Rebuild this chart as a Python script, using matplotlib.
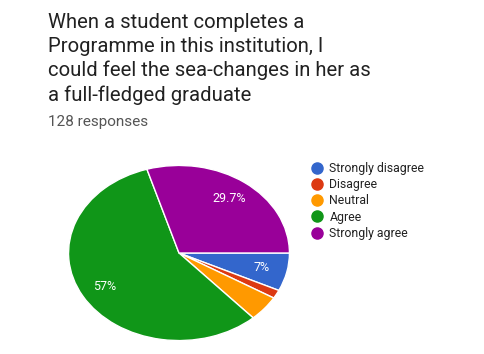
import matplotlib.pyplot as plt
from matplotlib.lines import Line2D

plt.rcParams['font.family'] = ['Roboto', 'DejaVu Sans']

title = ("When a student completes a\n"
         "Programme in this institution, I\n"
         "could feel the sea-changes in her as\n"
         "a full-fledged graduate")
n_responses = 128
categories = ['Strongly disagree', 'Disagree', 'Neutral', 'Agree', 'Strongly agree']
counts = [9, 2, 6, 73, 38]
colors = ['#3366cc', '#dc3912', '#ff9900', '#109618', '#990099']


def pct_label(p):
    if p < 5:
        return ''
    s = '{:.1f}'.format(p)
    if s.endswith('.0'):
        s = s[:-2]
    return s + '%'


W, H = 485, 354
fig = plt.figure(figsize=(W / 100, H / 100), dpi=100)

# pie drawn as an ellipse, like the stretched screenshot
ax = fig.add_axes([68 / W, (H - 341) / H, 222 / W, 176 / H])
wedges, texts, autotexts = ax.pie(
    counts, colors=colors, startangle=0, counterclock=False,
    autopct=pct_label, pctdistance=0.77,
    wedgeprops=dict(edgecolor='white', linewidth=1),
    textprops=dict(color='white', fontsize=9))
ax.set_aspect('auto')
ax.set_xlim(-1.005, 1.005)
ax.set_ylim(-1.005, 1.005)
ax.axis('off')

fig.text(48 / W, 1 - 13 / H, title, fontsize=14.6, color='#212121',
         va='top', ha='left', linespacing=1.32)
fig.text(48 / W, 1 - 122 / H, '{} responses'.format(n_responses),
         fontsize=11, color='#555555', va='center', ha='left')

handles = [Line2D([], [], marker='o', linestyle='none', markersize=8,
                  markerfacecolor=c, markeredgecolor=c) for c in colors]
fig.legend(handles, categories, loc='upper left',
           bbox_to_anchor=(305 / W, 1 - 156 / H), frameon=False,
           fontsize=8.8, labelspacing=0.26, handlelength=1.0,
           handletextpad=0.5, borderpad=0, labelcolor='#222222')

fig.savefig('out.png', dpi=100)
